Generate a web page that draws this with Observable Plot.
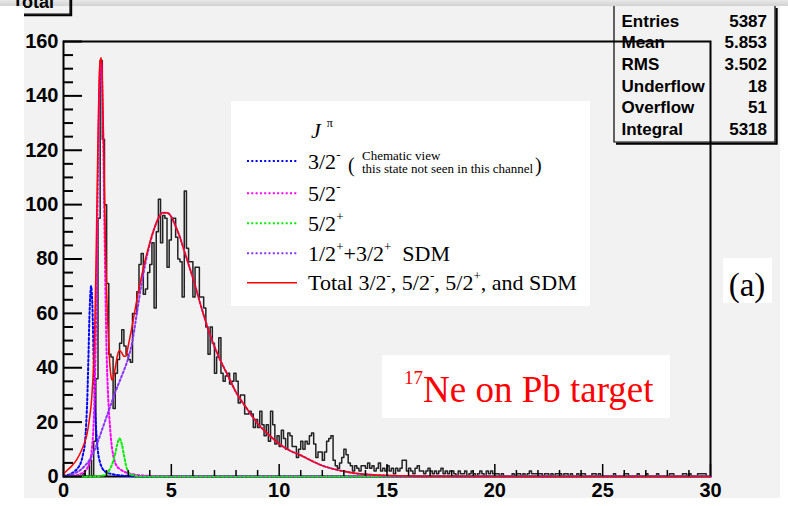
<!DOCTYPE html>
<html>
<head>
<meta charset="utf-8">
<script src="https://cdn.jsdelivr.net/npm/d3@7"></script>
<script src="https://cdn.jsdelivr.net/npm/@observablehq/plot@0.6"></script>
<style>
  html, body { margin: 0; padding: 0; background: #fff; }
  #page { position: relative; width: 788px; height: 506px; overflow: hidden; background: #fff; }
  #topbar { position: absolute; left: 0; top: 0; width: 788px; height: 6px; background: linear-gradient(#e8e8e8, #d2d2d2); }
  #pad { position: absolute; left: 24px; top: 6px; width: 756px; height: 492px; background: #f2f2f2; }
  #overlay { position: absolute; left: 0; top: 0; }
  #chart { position: absolute; left: 0; top: 0; width: 788px; height: 506px; }
  #chart svg { position: absolute; left: 0; top: 0; }
  #leftstrip { position: absolute; left: 0; top: 6px; width: 24px; height: 500px; background: #fff; }
</style>
</head>
<body>
<div id="page">
  <div id="topbar"></div>
  <div id="pad"></div>
  <svg id="overlay" width="788" height="506"></svg>
  <div id="chart"></div>
  <div id="leftstrip"></div>
</div>
<script>
// ---------------- histogram: counts in 0.1-wide bins over [0, 30) ----------------
const binStart = 0;
const binWidth = 0.1;
const counts = [
  0,0,0,0,0,0,0,0,0,1,            // 0.0 - 0.9
  0,0,6,0,13,36,95,153,124,100,   // 1.0 - 1.9
  71,45,44,25,38,43,49,54,48,45,  // 2.0 - 2.9
  43,42,60,60,68,78,82,67,69,75,  // 3.0 - 3.9
  78,86,62,90,102,86,96,95,77,87, // 4.0 - 4.9
  95,95,88,80,79,66,105,84,79,79, // 5.0 - 5.9
  66,77,77,66,66,62,55,45,55,49,  // 6.0 - 6.9
  38,44,51,38,35,37,38,34,35,38,  // 7.0 - 7.9
  35,27,30,30,23,23,24,23,18,21,  // 8.0 - 8.9
  18,24,19,15,19,13,24,19,12,15,  // 9.0 - 9.9
  11,17,14,10,16,15,11,11,7,10,   // 10
  13,10,13,12,15,16,12,7,9,9,     // 11
  6,9,13,14,15,6,4,3,5,7,         // 12
  10,8,5,4,2,4,3,2,4,4,           // 13
  3,5,3,4,2,3,5,2,3,2,            // 14
  4,2,3,1,3,2,3,6,6,2,            // 15
  3,2,1,3,4,2,2,1,2,3,            // 16
  2,1,2,1,2,3,1,2,1,2,            // 17
  2,1,0,2,1,1,2,0,1,2,            // 18
  1,0,1,2,1,0,2,1,2,1,            // 19
  1,1,0,1,0,0,0,0,1,0,            // 20
  1,1,0,1,0,1,2,1,1,1,            // 21
  1,1,0,1,1,0,1,0,1,1,            // 22
  1,0,1,1,0,1,0,0,1,0,            // 23
  1,1,0,0,0,1,1,0,1,0,            // 24
  0,0,0,0,0,1,0,0,0,0,            // 25
  1,1,0,0,0,0,1,0,0,0,            // 26
  1,0,0,0,0,1,0,0,0,0,            // 27
  0,1,1,0,0,0,0,1,1,0,            // 28
  1,0,0,0,1,1,1,1,0,0             // 29
];

// ---------------- fitted components, sampled (x, value) ----------------
const blueX = [0,0.3,0.5,0.7,0.8,0.9,1.0,1.05,1.1,1.15,1.2,1.25,1.28,1.31,1.35,1.4,1.45,1.5,1.55,1.6,1.7,1.8,2.0,2.3,2.6,3.0,4.0,30];
const blueY = [0.3,0.8,1.8,3.5,5,8,13,19,28,42,58,68,70,68,60,42,28,19,13,9,5,3,1.5,0.8,0.4,0.2,0,0];

const magX = [0,0.6,0.8,1.0,1.1,1.2,1.3,1.4,1.45,1.5,1.55,1.6,1.65,1.7,1.75,1.8,1.85,1.9,1.95,2.0,2.05,2.1,2.15,2.2,2.3,2.4,2.5,2.6,2.8,3.0,3.5,4.0,5.0,6.0,30];
const magY = [0,0.5,1,2,3,5,9,20,32,52,82,112,138,151,153,143,120,92,66,45,33,25,19,14,8,5,3.5,2.8,1.8,1.2,0.5,0.2,0.05,0,0];

const greenX = [0,1.5,1.8,2.0,2.1,2.2,2.3,2.4,2.5,2.6,2.7,2.8,2.9,3.0,3.1,3.3,3.6,30];
const greenY = [0,0,0.3,1,2,3.5,5.5,8.5,12,14,12,8,4,1.8,0.8,0.3,0,0];

const sdmX = [0,0.3,0.6,0.8,1.0,1.2,1.4,1.6,1.8,2.0,2.2,2.4,2.6,2.8,3.0,3.2,3.4,3.6,3.8,4.0,4.2,4.4,4.6,4.8,5.0,5.2,5.4,5.6,5.8,6.0,6.4,6.8,7.2,7.6,8.0,8.5,9.0,9.5,10,10.5,11,11.5,12,12.5,13,13.5,14,15,16,18,20,30];
const sdmY = [0,0.5,1.5,2.5,4,6,9,13,17.5,22,26.5,31,35,39,43.5,50,60,70,78.5,85.5,91,95,97,97,95.5,92,88,83,78,73,62,52,44,37.5,31,25,19.5,15.5,12,9.5,7.8,5.8,4,2.8,1.9,1.2,0.8,0.35,0.15,0.05,0,0];

const totX = [0,0.2,0.4,0.6,0.8,1.0,1.1,1.2,1.3,1.4,1.45,1.5,1.55,1.6,1.65,1.7,1.75,1.8,1.85,1.9,1.95,2.0,2.05,2.1,2.15,2.2,2.25,2.3,2.4,2.5,2.6,2.7,2.8,2.9,3.0,3.1,3.2,3.4,3.6,3.8,4.0,4.2,4.4,4.6,4.8,5.0,5.2,5.4,5.6,5.8,6.0,6.4,6.8,7.2,7.6,8.0,8.5,9.0,9.5,10,10.5,11,11.5,12,12.5,13,13.5,14,15,16,18,20,30];
const totY = [1,2.5,4,6,9,13,16,21,28,42,55,75,100,125,145,153,154,146,127,104,84,68,57,48,41,37,35.5,36,40,44.5,46.3,45.5,44.2,44.3,48,52,56,65,73,80,86,91,95,97,97,95.5,92,88,83,78,73,62,52,44,37.5,31,25,19.5,15.5,12,9.5,7.8,5.8,4,2.8,1.9,1.2,0.8,0.35,0.15,0.05,0,0];

// ---------------- axes ----------------
const yMajor = [0,20,40,60,80,100,120,140,160];
const yMinor = d3.range(5, 160, 5).filter(v => v % 20 !== 0);
const xMajor = [0,5,10,15,20,25,30];
const xMinor = d3.range(1, 30).filter(v => v % 5 !== 0);

// ---------------- legend & annotations ----------------
const legendColors = ["#0000ff", "#ff00ff", "#00ee00", "#8833ff", "#ff0000"];
const legendDotted = [true, true, true, true, false];
const legendLabels = [
  [["3/2"], ["-", "sup"]],
  [["5/2"], ["-", "sup"]],
  [["5/2"], ["+", "sup"]],
  [["1/2"], ["+", "sup"], ["+3/2"], ["+", "sup"], ["\u00a0 SDM"]],
  [["Total 3/2"], ["-", "sup"], [", 5/2"], ["-", "sup"], [", 5/2"], ["+", "sup"], [", and SDM"]]
];
const noteLines = ["Chematic view", "this state not seen in this channel"];
const statNames = ["Entries", "Mean", "RMS", "Underflow", "Overflow", "Integral"];
const statValues = ["5387", "5.853", "3.502", "18", "51", "5318"];
const histTitle = "Total";

// ---------------- chart ----------------
const W = 788, H = 506;
const mL = 63, mR = 78, mT = 41, mB = 30;
const frameW = W - mL - mR, frameH = H - mT - mB;

const stepPts = counts.map((c, i) => ({x: binStart + i * binWidth, y: c}));
stepPts.push({x: binStart + counts.length * binWidth, y: counts[counts.length - 1]});
const pts = (xs, ys) => xs.map((x, i) => ({x, y: ys[i]}));
const dots = "2,2.3";

const chart = Plot.plot({
  width: W, height: H,
  marginLeft: mL, marginRight: mR, marginTop: mT, marginBottom: mB,
  style: {background: "transparent", fontFamily: "'Liberation Sans', Arial, sans-serif", overflow: "visible"},
  x: {domain: [0, 30]},
  y: {domain: [0, 160]},
  marks: [
    Plot.frame({stroke: "#000", strokeWidth: 2}),
    Plot.line(stepPts, {x: "x", y: "y", curve: "step-after", stroke: "#222", strokeWidth: 1.5}),
    Plot.line(pts(blueX, blueY), {x: "x", y: "y", curve: "monotone-x", stroke: legendColors[0], strokeWidth: 2, strokeDasharray: dots}),
    Plot.line(pts(magX, magY), {x: "x", y: "y", curve: "monotone-x", stroke: legendColors[1], strokeWidth: 2, strokeDasharray: dots}),
    Plot.line(pts(greenX, greenY), {x: "x", y: "y", curve: "monotone-x", stroke: legendColors[2], strokeWidth: 2, strokeDasharray: dots}),
    Plot.line(pts(sdmX, sdmY), {x: "x", y: "y", curve: "monotone-x", stroke: legendColors[3], strokeWidth: 2, strokeDasharray: dots}),
    Plot.line(pts(totX, totY), {x: "x", y: "y", curve: "monotone-x", stroke: legendColors[4], strokeWidth: 1.5}),
    // inward tick marks
    Plot.tickY(yMajor, {y: d => d, stroke: "#000", strokeWidth: 2, insetRight: frameW - 19}),
    Plot.tickY(yMinor, {y: d => d, stroke: "#000", strokeWidth: 2, insetRight: frameW - 10}),
    Plot.tickX(xMajor, {x: d => d, stroke: "#000", strokeWidth: 1.5, insetTop: frameH - 12}),
    Plot.tickX(xMinor, {x: d => d, stroke: "#000", strokeWidth: 1.5, insetTop: frameH - 6}),
    Plot.axisY(yMajor, {tickSize: 0, tickPadding: 5, fontSize: 20, fontWeight: "bold", label: null}),
    Plot.axisX(xMajor, {tickSize: 0, tickPadding: 6, fontSize: 20, fontWeight: "bold", label: null})
  ]
});
document.getElementById("chart").appendChild(chart);

// ---------------- boxes drawn behind the frame ----------------
const ov = d3.select("#overlay");
const serif = "'Liberation Serif', 'Times New Roman', serif";
const sans = "'Liberation Sans', Arial, sans-serif";

// histogram title box (top-left, partly outside the pad)
ov.append("path").attr("d", "M-30,14 H70 V-20").attr("fill", "none").attr("stroke", "#000").attr("stroke-width", 1.2);
ov.append("path").attr("d", "M-28,15.2 H71.2 V-18").attr("fill", "none").attr("stroke", "#000").attr("stroke-width", 2);
ov.append("text").attr("x", 54).attr("y", 8).attr("text-anchor", "end")
  .attr("font-family", sans).attr("font-weight", "bold").attr("font-size", 18).text(histTitle);

// statistics box
ov.append("path").attr("d", "M614,6 V142 H775 V6").attr("fill", "none").attr("stroke", "#000").attr("stroke-width", 1.2);
ov.append("path").attr("d", "M616,143.6 H776.6 V8").attr("fill", "none").attr("stroke", "#000").attr("stroke-width", 2.2);
statNames.forEach((n, i) => {
  const yb = 26.5 + i * 21.7;
  ov.append("text").attr("x", 621.5).attr("y", yb).attr("font-family", sans).attr("font-weight", "bold")
    .attr("font-size", 17).text(n);
  ov.append("text").attr("x", 767).attr("y", yb).attr("text-anchor", "end").attr("font-family", sans)
    .attr("font-weight", "bold").attr("font-size", 17).text(statValues[i]);
});

// legend
ov.append("rect").attr("x", 231).attr("y", 101).attr("width", 359).attr("height", 205).attr("fill", "#fff");
const jt = ov.append("text").attr("x", 311).attr("y", 138).attr("font-family", serif).attr("font-size", 22);
jt.append("tspan").attr("font-style", "italic").text("J");
jt.append("tspan").attr("dx", 6).attr("dy", -11).attr("font-size", 12).text("\u03c0");

const lineY = [161, 193.3, 223.3, 253.3, 282.7];
const baseY = [169, 201.3, 231.3, 261.3, 289.5];
legendLabels.forEach((segs, i) => {
  const ln = ov.append("line").attr("x1", 247).attr("x2", 297).attr("y1", lineY[i]).attr("y2", lineY[i])
    .attr("stroke", legendColors[i]).attr("stroke-width", legendDotted[i] ? 2 : 1.5);
  if (legendDotted[i]) ln.attr("stroke-dasharray", dots);
  const t = ov.append("text").attr("x", 308).attr("y", baseY[i]).attr("font-family", serif)
    .attr("font-size", 22).attr("xml:space", "preserve");
  let raised = false;
  segs.forEach(([s, kind]) => {
    const sp = t.append("tspan").text(s);
    if (kind === "sup" && !raised) { sp.attr("dy", -10).attr("font-size", 13); raised = true; }
    else if (kind === "sup") { sp.attr("font-size", 13); }
    else if (raised) { sp.attr("dy", 10); raised = false; }
  });
});
// note beside 3/2-
ov.append("text").attr("x", 348).attr("y", 171.5).attr("font-family", serif).attr("font-size", 20).text("(");
ov.append("text").attr("x", 362).attr("y", 159.5).attr("font-family", serif).attr("font-size", 13).text(noteLines[0]);
ov.append("text").attr("x", 362).attr("y", 172.5).attr("font-family", serif).attr("font-size", 13).text(noteLines[1]);
ov.append("text").attr("x", 535).attr("y", 171.5).attr("font-family", serif).attr("font-size", 20).text(")");

// reaction label
ov.append("rect").attr("x", 382).attr("y", 355).attr("width", 288).attr("height", 63).attr("fill", "#fff");
const ne = ov.append("text").attr("x", 404).attr("y", 383.5).attr("font-family", serif).attr("fill", "#ff0000");
ne.append("tspan").attr("font-size", 19).text("17");
ne.append("tspan").attr("x", 423).attr("y", 401.5).attr("font-size", 37).text("Ne on Pb target");

// panel tag
ov.append("rect").attr("x", 723).attr("y", 258).attr("width", 49).attr("height", 45).attr("fill", "#fff");
ov.append("text").attr("x", 747).attr("y", 295.5).attr("text-anchor", "middle").attr("font-family", serif)
  .attr("font-size", 33).text("(a)");
</script>
</body>
</html>
